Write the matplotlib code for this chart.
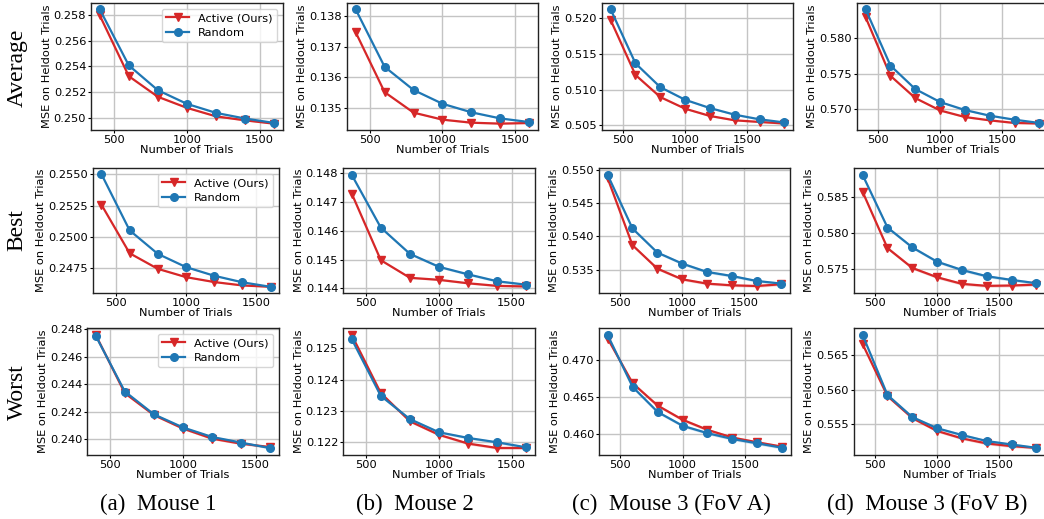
import matplotlib
matplotlib.use("Agg")
import matplotlib.pyplot as plt
from matplotlib.ticker import MultipleLocator, FormatStrFormatter

# ---------------- data ----------------
trials_m12 = [400, 600, 800, 1000, 1200, 1400, 1600]
trials_m3 = [400, 600, 800, 1000, 1200, 1400, 1600, 1800]

row_names = ["Average", "Best", "Worst"]
col_names = ["(a)  Mouse 1", "(b)  Mouse 2", "(c)  Mouse 3 (FoV A)", "(d)  Mouse 3 (FoV B)"]

# Average
avg_m1_active = [0.25797, 0.25324, 0.25164, 0.25078, 0.25012, 0.24981, 0.24955]
avg_m1_random = [0.25844, 0.25408, 0.25215, 0.25109, 0.25039, 0.24995, 0.24961]
avg_m2_active = [0.13747, 0.13551, 0.13484, 0.13461, 0.13451, 0.13448, 0.13450]
avg_m2_random = [0.13822, 0.13634, 0.13558, 0.13513, 0.13485, 0.13465, 0.13453]
avg_m3a_active = [0.51976, 0.51206, 0.50896, 0.50733, 0.50631, 0.50570, 0.50547, 0.50525]
avg_m3a_random = [0.52125, 0.51369, 0.51035, 0.50858, 0.50742, 0.50649, 0.50584, 0.50540]
avg_m3b_active = [0.58296, 0.57469, 0.57155, 0.56980, 0.56887, 0.56840, 0.56803, 0.56795]
avg_m3b_random = [0.58408, 0.57614, 0.57282, 0.57099, 0.56986, 0.56906, 0.56849, 0.56803]

# Best
best_m1_active = [0.25257, 0.24871, 0.24747, 0.24681, 0.24642, 0.24615, 0.24604]
best_m1_random = [0.25500, 0.25053, 0.24866, 0.24761, 0.24692, 0.24640, 0.24604]
best_m2_active = [0.14729, 0.14498, 0.14437, 0.14430, 0.14418, 0.14409, 0.14407]
best_m2_random = [0.14794, 0.14611, 0.14520, 0.14475, 0.14449, 0.14425, 0.14413]
best_m3a_active = [0.54874, 0.53867, 0.53515, 0.53354, 0.53289, 0.53263, 0.53253, 0.53279]
best_m3a_random = [0.54924, 0.54119, 0.53757, 0.53591, 0.53465, 0.53404, 0.53329, 0.53289]
best_m3b_active = [0.58569, 0.57790, 0.57514, 0.57385, 0.57293, 0.57265, 0.57270, 0.57283]
best_m3b_random = [0.58804, 0.58076, 0.57800, 0.57601, 0.57486, 0.57399, 0.57348, 0.57302]

# Worst
worst_m1_active = [0.24758, 0.24335, 0.24176, 0.24078, 0.24005, 0.23968, 0.23944]
worst_m1_random = [0.24751, 0.24347, 0.24181, 0.24086, 0.24017, 0.23976, 0.23936]
worst_m2_active = [0.12542, 0.12357, 0.12267, 0.12224, 0.12196, 0.12182, 0.12182]
worst_m2_random = [0.12529, 0.12348, 0.12274, 0.12232, 0.12214, 0.12200, 0.12184]
worst_m3a_active = [0.47286, 0.46686, 0.46386, 0.46195, 0.46059, 0.45955, 0.45891, 0.45832]
worst_m3a_random = [0.47332, 0.46636, 0.46300, 0.46114, 0.46014, 0.45936, 0.45877, 0.45818]
worst_m3b_active = [0.56663, 0.55909, 0.55589, 0.55401, 0.55293, 0.55219, 0.55180, 0.55155]
worst_m3b_random = [0.56796, 0.55924, 0.55603, 0.55441, 0.55342, 0.55254, 0.55204, 0.55155]

# shaded band half-widths (active, random) per panel
bands = [
    [(0.00004, 0.00004), (0.00002, 0.00002), (0.00010, 0.00010), (0.00010, 0.00010)],
    [(0.00004, 0.00004), (0.00003, 0.00004), (0.00020, 0.00020), (0.00020, 0.00020)],
    [(0.00008, 0.00008), (0.00004, 0.00004), (0.00020, 0.00020), (0.00020, 0.00020)],
]

panels = [
    [(trials_m12, avg_m1_active, avg_m1_random), (trials_m12, avg_m2_active, avg_m2_random),
     (trials_m3, avg_m3a_active, avg_m3a_random), (trials_m3, avg_m3b_active, avg_m3b_random)],
    [(trials_m12, best_m1_active, best_m1_random), (trials_m12, best_m2_active, best_m2_random),
     (trials_m3, best_m3a_active, best_m3a_random), (trials_m3, best_m3b_active, best_m3b_random)],
    [(trials_m12, worst_m1_active, worst_m1_random), (trials_m12, worst_m2_active, worst_m2_random),
     (trials_m3, worst_m3a_active, worst_m3a_random), (trials_m3, worst_m3b_active, worst_m3b_random)],
]

ytick_steps = [[0.002, 0.001, 0.005, 0.005],
               [0.0025, 0.001, 0.005, 0.005],
               [0.002, 0.001, 0.005, 0.005]]
ytick_fmt = [["%.3f"] * 4, ["%.4f", "%.3f", "%.3f", "%.3f"], ["%.3f"] * 4]

# ---------------- layout (pixels) ----------------
W, H = 1044, 519
row_y = [(3, 130), (168, 293), (328, 455)]
col_x = [
    [(91, 283), (347, 538), (602, 793), (857, 1048)],
    [(93, 279), (343, 535), (599, 790), (854, 1045)],
    [(87, 279), (343, 535), (599, 791), (854, 1045)],
]

RED = "#d62728"
BLUE = "#1f77b4"

plt.rcParams["font.family"] = ["DejaVu Sans"]
fig = plt.figure(figsize=(W / 100, H / 100), dpi=100)

for r in range(3):
    y0, y1 = row_y[r]
    for c in range(4):
        x0, x1 = col_x[r][c]
        ax = fig.add_axes([x0 / W, (H - y1) / H, (x1 - x0) / W, (y1 - y0) / H])
        xs, act, rnd = panels[r][c]
        ba, br = bands[r][c]
        ax.fill_between(xs, [v - ba for v in act], [v + ba for v in act],
                        color=RED, alpha=0.2, lw=0)
        ax.fill_between(xs, [v - br for v in rnd], [v + br for v in rnd],
                        color=BLUE, alpha=0.2, lw=0)
        ax.plot(xs, act, color=RED, marker="v", ms=5.5, lw=1.6, label="Active (Ours)", zorder=3)
        ax.plot(xs, rnd, color=BLUE, marker="o", ms=5.5, lw=1.6, label="Random", zorder=3)
        ax.grid(True, color="#c4c4c4", lw=1.0)
        ax.set_axisbelow(True)
        ax.xaxis.set_major_locator(MultipleLocator(500))
        ax.yaxis.set_major_locator(MultipleLocator(ytick_steps[r][c]))
        ax.yaxis.set_major_formatter(FormatStrFormatter(ytick_fmt[r][c]))
        ax.tick_params(labelsize=8.2, length=2, width=0.8, pad=1.5)
        ax.set_xlabel("Number of Trials", fontsize=8.2, labelpad=0)
        ax.set_ylabel("MSE on Heldout Trials", fontsize=8.2, labelpad=1.5)
        for s in ax.spines.values():
            s.set_linewidth(1.0)
            s.set_color("#222222")
        if c == 0:
            ax.legend(loc="upper right", fontsize=8.2, handlelength=2.0,
                      borderpad=0.4, labelspacing=0.4, framealpha=0.8)

row_centers = [68, 230, 392]
for name, yc in zip(row_names, row_centers):
    fig.text(17 / W, 1 - yc / H, name, rotation=90, ha="center", va="center",
             fontsize=17, family="Liberation Serif")

col_centers = [158, 415, 671, 927]
for name, xc in zip(col_names, col_centers):
    fig.text(xc / W, 1 - 504 / H, name, ha="center", va="center",
             fontsize=16.5, family="Liberation Serif")

fig.savefig("out.png", dpi=100)
